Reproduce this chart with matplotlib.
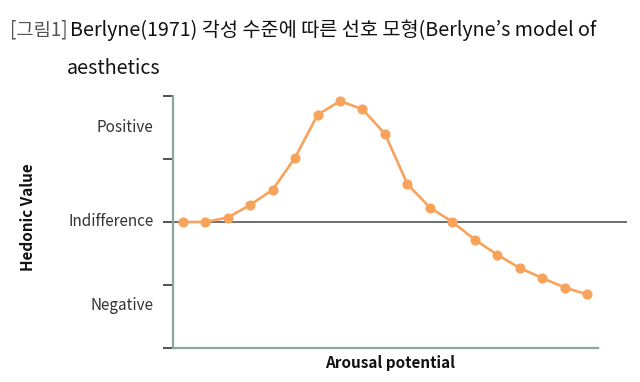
import matplotlib
matplotlib.use("Agg")
import matplotlib.pyplot as plt

plt.rcParams['font.family'] = ['Noto Sans CJK KR', 'DejaVu Sans']

arousal_steps = list(range(19))
hedonic_values = [0.0, 0.0, 0.07, 0.27, 0.51, 1.02, 1.70, 1.92, 1.79, 1.40,
                  0.60, 0.23, 0.0, -0.28, -0.52, -0.73, -0.89, -1.04, -1.15]
level_labels = ["Positive", "Indifference", "Negative"]
level_positions = [1.5, 0.0, -1.33]
tick_positions = [-2, -1, 0, 1, 2]

fig = plt.figure(figsize=(6.4, 3.82), dpi=100)
ax = fig.add_axes([173/640, 1-348/382, (627-173)/640, (348-96)/382])

ax.set_xlim(-0.43, 19.77)
ax.set_ylim(-2, 2)

ax.axhline(0, color='#555555', lw=1.2, zorder=1)
ax.plot(arousal_steps, hedonic_values, color='#F7A35C', lw=1.9,
        marker='o', ms=6.3, mfc='#F7A35C', mec='#F7A35C', zorder=3, clip_on=False)

for s in ['top', 'right']:
    ax.spines[s].set_visible(False)
axis_col = '#8FA3A3'
ax.spines['left'].set_color(axis_col)
ax.spines['left'].set_linewidth(1.6)
ax.spines['bottom'].set_color(axis_col)
ax.spines['bottom'].set_linewidth(1.6)
ax.spines['bottom'].set_bounds(-0.43, 18.48)

ax.set_xticks([])
ax.set_yticks(tick_positions)
ax.set_yticklabels([])
ax.tick_params(axis='y', direction='out', length=7, width=1.2, color='#333333')

for lab, pos in zip(level_labels, level_positions):
    ax.text(-0.43 - 19.5/454*20.2, pos, lab, ha='right', va='center',
            fontsize=11, color='#333333', transform=ax.transData)

fig.text(28/640, 1-217/382, "Hedonic Value", rotation=90, ha='center', va='center',
         fontsize=11, fontweight='bold', color='#111111')
fig.text(390/640, 1-363/382, "Arousal potential", ha='center', va='center',
         fontsize=11, fontweight='bold', color='#111111')

# title
t1 = fig.text(10/640, 1-30/382, "[그림1]", ha='left', va='center',
              fontsize=13.5, color='#555555')
fig.canvas.draw()
bb = t1.get_window_extent()
fig.text((bb.x1 + 2)/640, 1-30/382,
         "Berlyne(1971) 각성 수준에 따른 선호 모형(Berlyne’s model of",
         ha='left', va='center', fontsize=14.2, fontweight='medium', color='#111111')
fig.text(67/640, 1-68/382, "aesthetics", ha='left', va='center',
         fontsize=14.2, fontweight='medium', color='#111111')

fig.savefig("out.png", dpi=100)
